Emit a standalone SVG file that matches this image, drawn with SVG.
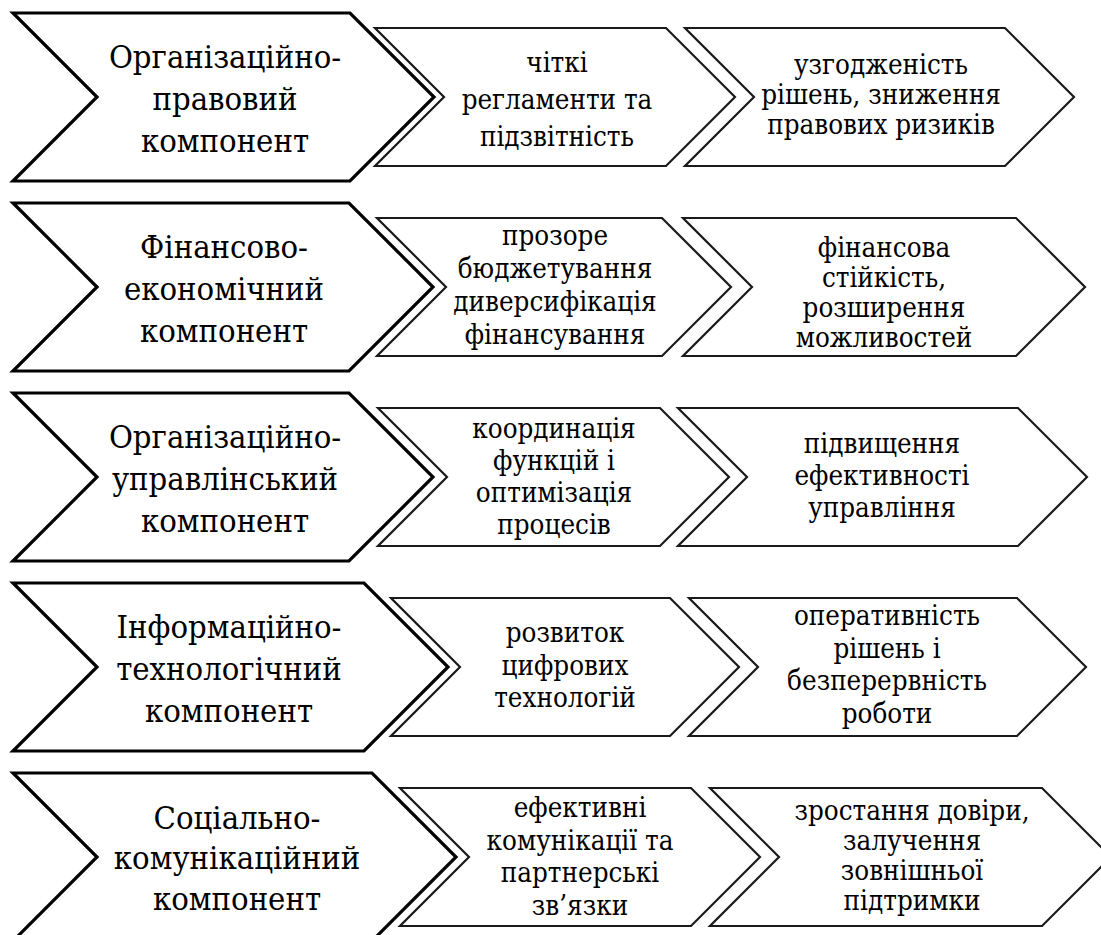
<svg xmlns="http://www.w3.org/2000/svg" width="1101" height="935" viewBox="0 0 1101 935">
<style>
.big{fill:#fff;stroke:#000;stroke-width:3.2;stroke-linejoin:miter}
.sm{fill:#fff;stroke:#1a1a1a;stroke-width:2.2;stroke-linejoin:miter}
.tb{font-size:32.5px;fill:#000;text-anchor:middle}
.ts{font-size:27.5px;fill:#000;text-anchor:middle}
</style>
<rect width="1101" height="935" fill="#fff"/>
<g id="connectors"></g>
<g font-family="'DejaVu Serif Condensed', 'DejaVu Serif', serif" font-stretch="condensed">

<g id="r1-main">
<polygon class="big" points="13,13 350,13 434,97 350,181 13,181 97,97"/>
<text class="tb" x="225" y="68">Організаційно-</text>
<text class="tb" x="225" y="110">правовий</text>
<text class="tb" x="225" y="152">компонент</text>
</g>
<g id="r1-mid">
<polygon class="sm" points="375,28 666,28 735,97 666,166 375,166 444,97"/>
<text class="ts" x="557" y="72">чіткі</text>
<text class="ts" x="557" y="109">регламенти та</text>
<text class="ts" x="557" y="146">підзвітність</text>
</g>
<g id="r1-res">
<polygon class="sm" points="685,28 1005,28 1074,97 1005,166 685,166 754,97"/>
<text class="ts" x="881" y="74">узгодженість</text>
<text class="ts" x="881" y="104">рішень, зниження</text>
<text class="ts" x="881" y="134">правових ризиків</text>
</g>

<g id="r2-main">
<polygon class="big" points="13,203 349,203 433,287 349,371 13,371 97,287"/>
<text class="tb" x="224" y="258">Фінансово-</text>
<text class="tb" x="224" y="300">економічний</text>
<text class="tb" x="224" y="342">компонент</text>
</g>
<g id="r2-mid">
<polygon class="sm" points="377,218 662,218 731,287 662,356 377,356 446,287"/>
<text class="ts" x="555" y="245">прозоре</text>
<text class="ts" x="555" y="278">бюджетування</text>
<text class="ts" x="555" y="311">диверсифікація</text>
<text class="ts" x="555" y="344">фінансування</text>
</g>
<g id="r2-res">
<polygon class="sm" points="683,218 1016,218 1085,287 1016,356 683,356 752,287"/>
<text class="ts" x="884" y="257">фінансова</text>
<text class="ts" x="884" y="287">стійкість,</text>
<text class="ts" x="884" y="317">розширення</text>
<text class="ts" x="884" y="347">можливостей</text>
</g>

<g id="r3-main">
<polygon class="big" points="13,393 349,393 433,477 349,561 13,561 97,477"/>
<text class="tb" x="225" y="448">Організаційно-</text>
<text class="tb" x="225" y="490">управлінський</text>
<text class="tb" x="225" y="532">компонент</text>
</g>
<g id="r3-mid">
<polygon class="sm" points="378,408 660,408 729,477 660,546 378,546 447,477"/>
<text class="ts" x="554" y="438">координація</text>
<text class="ts" x="554" y="470">функцій і</text>
<text class="ts" x="554" y="502">оптимізація</text>
<text class="ts" x="554" y="534">процесів</text>
</g>
<g id="r3-res">
<polygon class="sm" points="678,408 1018,408 1087,477 1018,546 678,546 747,477"/>
<text class="ts" x="882" y="453">підвищення</text>
<text class="ts" x="882" y="485">ефективності</text>
<text class="ts" x="882" y="517">управління</text>
</g>

<g id="r4-main">
<polygon class="big" points="13,583 364,583 448,667 364,751 13,751 97,667"/>
<text class="tb" x="229" y="638">Інформаційно-</text>
<text class="tb" x="229" y="680">технологічний</text>
<text class="tb" x="229" y="722">компонент</text>
</g>
<g id="r4-mid">
<polygon class="sm" points="391,598 670,598 739,667 670,736 391,736 460,667"/>
<text class="ts" x="565" y="642">розвиток</text>
<text class="ts" x="565" y="675">цифрових</text>
<text class="ts" x="565" y="707">технологій</text>
</g>
<g id="r4-res">
<polygon class="sm" points="689,598 1017,598 1086,667 1017,736 689,736 758,667"/>
<text class="ts" x="887" y="625">оперативність</text>
<text class="ts" x="887" y="658">рішень і</text>
<text class="ts" x="887" y="690">безперервність</text>
<text class="ts" x="887" y="723">роботи</text>
</g>

<g id="r5-main">
<polygon class="big" points="13,773 372,773 456,857 372,941 13,941 97,857"/>
<text class="tb" x="237" y="829">Соціально-</text>
<text class="tb" x="237" y="869">комунікаційний</text>
<text class="tb" x="237" y="910">компонент</text>
</g>
<g id="r5-mid">
<polygon class="sm" points="400,788 691,788 760,857 691,926 400,926 469,857"/>
<text class="ts" x="580" y="817">ефективні</text>
<text class="ts" x="580" y="850">комунікації та</text>
<text class="ts" x="580" y="882">партнерські</text>
<text class="ts" x="580" y="915">зв’язки</text>
</g>
<g id="r5-res">
<polygon class="sm" points="710,788 1042,788 1111,857 1042,926 710,926 779,857"/>
<text class="ts" x="912" y="820">зростання довіри,</text>
<text class="ts" x="912" y="850">залучення</text>
<text class="ts" x="912" y="880">зовнішньої</text>
<text class="ts" x="912" y="910">підтримки</text>
</g>
</g>
</svg>
